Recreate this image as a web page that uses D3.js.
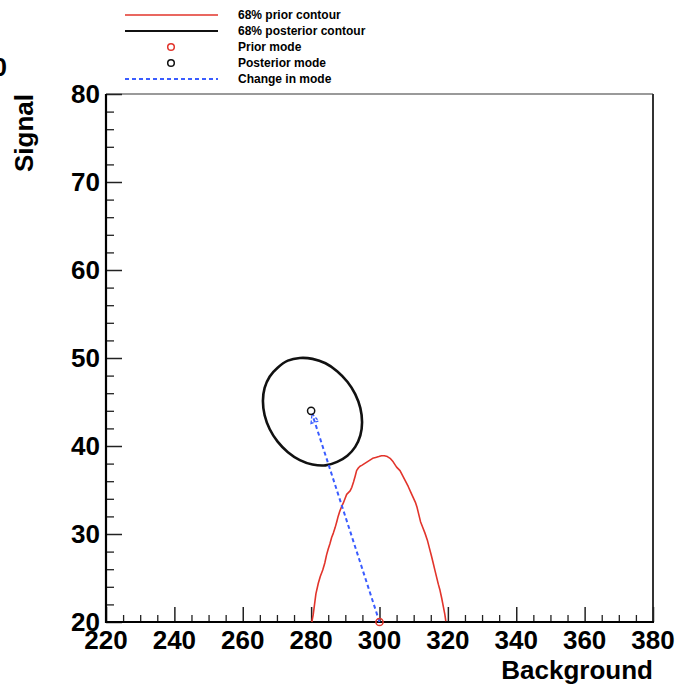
<!DOCTYPE html>
<html>
<head>
<meta charset="utf-8">
<script src="https://cdn.jsdelivr.net/npm/d3@7"></script>
<style>
  html, body { margin: 0; padding: 0; background: #fff; }
  svg { display: block; }
  text { font-family: "Liberation Sans", Arial, Helvetica, sans-serif; font-weight: bold; fill: #000; }
</style>
</head>
<body>
<div id="chart"></div>
<script>
// ---------------- data ----------------
const xDomain = [220, 380];
const yDomain = [20, 80];
const xTicks = [220, 240, 260, 280, 300, 320, 340, 360, 380];
const yTicks = [20, 30, 40, 50, 60, 70, 80];
const xTitle = "Background";
const yTitle = "Signal";

const priorMode = [300, 20];
const posteriorMode = [280, 44];

// 68% prior contour (red)
const priorContour = [
  [280.2,20.0],[280.6,20.8],[281.0,22.0],[281.4,23.2],[282.1,24.4],[282.7,25.2],[283.4,25.9],[284.0,26.7],
  [284.5,27.6],[285.0,28.3],[285.5,28.9],[286.0,29.6],[286.5,30.1],[287.0,30.7],[287.5,31.4],[287.9,32.0],
  [288.4,32.6],[288.9,33.1],[289.4,33.5],[289.9,34.0],[290.4,34.5],[290.9,34.7],[291.4,34.9],[291.9,35.3],
  [292.4,35.9],[292.9,36.6],[293.3,37.2],[293.8,37.5],[294.3,37.7],[294.8,37.8],[295.6,38.0],[296.4,38.2],
  [297.2,38.4],[298.0,38.6],[298.9,38.7],[299.8,38.8],[300.6,38.9],[301.4,38.9],[302.3,38.8],[303.1,38.6],
  [304.0,38.2],[305.0,37.6],[306.0,37.2],[306.8,36.6],[307.6,36.0],[308.4,35.4],[309.2,34.7],[309.9,34.1],
  [310.5,33.6],[311.0,33.0],[311.5,32.2],[312.0,31.4],[312.6,30.8],[313.3,30.1],[314.0,29.3],[314.6,28.4],
  [315.2,27.5],[315.7,26.7],[316.2,25.9],[316.7,25.1],[317.2,24.3],[317.7,23.6],[318.2,22.7],[318.7,21.7],
  [319.1,20.9],[319.4,20.1]
];

// 68% posterior contour (black)
const posteriorContour = [
  [294.9,42.7],[294.4,41.2],[292.9,39.9],[290.6,38.9],[287.6,38.2],[284.2,37.8],[280.4,37.9],[276.7,38.4],
  [273.2,39.3],[270.2,40.5],[267.9,41.9],[266.4,43.5],[265.9,45.1],[266.4,46.6],[267.9,47.9],[270.2,48.9],
  [273.2,49.7],[276.7,50.0],[280.4,49.9],[284.2,49.4],[287.6,48.5],[290.6,47.3],[292.9,45.9],[294.4,44.3]
];

const legendItems = [
  { label: "68% prior contour", kind: "line", color: "#e2342b" },
  { label: "68% posterior contour", kind: "line", color: "#111" },
  { label: "Prior mode", kind: "marker", color: "#e2342b" },
  { label: "Posterior mode", kind: "marker", color: "#111" },
  { label: "Change in mode", kind: "dash", color: "#3a5cff" }
];

// ---------------- layout ----------------
const W = 677, H = 687;
const plot = { left: 106, right: 653, top: 94, bottom: 622 };

const svg = d3.select("#chart").append("svg").attr("width", W).attr("height", H);

const x = d3.scaleLinear().domain(xDomain).range([plot.left, plot.right]);
const y = d3.scaleLinear().domain(yDomain).range([plot.bottom, plot.top]);

// frame top / right
svg.append("line").attr("x1", plot.left).attr("x2", plot.right).attr("y1", plot.top).attr("y2", plot.top)
  .attr("stroke", "#9a9a9a").attr("stroke-width", 2);
svg.append("line").attr("x1", plot.right).attr("x2", plot.right).attr("y1", plot.top).attr("y2", plot.bottom)
  .attr("stroke", "#333").attr("stroke-width", 2);

// minor ticks
const xMinor = d3.range(xDomain[0], xDomain[1] + 0.01, 5).filter(v => xTicks.indexOf(v) < 0);
const yMinor = d3.range(yDomain[0], yDomain[1] + 0.01, 2).filter(v => yTicks.indexOf(v) < 0);

svg.append("g").attr("transform", `translate(0,${plot.bottom})`)
  .call(d3.axisTop(x).tickValues(xMinor).tickSize(7).tickFormat(""))
  .call(g => g.select(".domain").remove())
  .call(g => g.selectAll("line").attr("stroke", "#222").attr("stroke-width", 1.3));
svg.append("g").attr("transform", `translate(${plot.left},0)`)
  .call(d3.axisRight(y).tickValues(yMinor).tickSize(8).tickFormat(""))
  .call(g => g.select(".domain").remove())
  .call(g => g.selectAll("line").attr("stroke", "#222").attr("stroke-width", 1.3));

// major ticks (inward)
svg.append("g").attr("transform", `translate(0,${plot.bottom})`)
  .call(d3.axisTop(x).tickValues(xTicks).tickSize(15).tickFormat(""))
  .call(g => g.select(".domain").remove())
  .call(g => g.selectAll("line").attr("stroke", "#222").attr("stroke-width", 1.5));
svg.append("g").attr("transform", `translate(${plot.left},0)`)
  .call(d3.axisRight(y).tickValues(yTicks).tickSize(16).tickFormat(""))
  .call(g => g.select(".domain").remove())
  .call(g => g.selectAll("line").attr("stroke", "#222").attr("stroke-width", 1.5));

// axis lines
svg.append("line").attr("x1", plot.left).attr("x2", plot.right + 1).attr("y1", plot.bottom).attr("y2", plot.bottom)
  .attr("stroke", "#000").attr("stroke-width", 2.2);
svg.append("line").attr("x1", plot.left).attr("x2", plot.left).attr("y1", plot.top).attr("y2", plot.bottom + 1)
  .attr("stroke", "#000").attr("stroke-width", 2.2);

// tick labels
svg.append("g").selectAll("text").data(xTicks).join("text")
  .attr("x", d => x(d)).attr("y", plot.bottom + 27)
  .attr("text-anchor", "middle").attr("font-size", 26).text(d => d);
svg.append("g").selectAll("text").data(yTicks).join("text")
  .attr("x", plot.left - 6).attr("y", d => y(d) + 9)
  .attr("text-anchor", "end").attr("font-size", 26).text(d => d);

// axis titles
svg.append("text").attr("x", plot.right).attr("y", 679).attr("text-anchor", "end")
  .attr("font-size", 26).text(xTitle);
svg.append("text").attr("transform", `translate(33,${plot.top}) rotate(-90)`).attr("text-anchor", "end")
  .attr("font-size", 26).text(yTitle);

// cut-off "0" at the top-left corner
svg.append("text").attr("x", 7).attr("y", 76).attr("text-anchor", "end").attr("font-size", 26).text("0");

// ---------------- marks ----------------
const line = d3.line().x(d => x(d[0])).y(d => y(d[1]));

svg.append("path").datum(priorContour).attr("d", line)
  .attr("fill", "none").attr("stroke", "#e2342b").attr("stroke-width", 1.6).attr("stroke-linejoin", "round");

svg.append("path").datum(posteriorContour).attr("d", d3.line().x(d => x(d[0])).y(d => y(d[1])).curve(d3.curveCardinalClosed))
  .attr("fill", "none").attr("stroke", "#111").attr("stroke-width", 2.6);

// change-in-mode arrow
const x0 = x(priorMode[0]), y0 = y(priorMode[1]);
const x1 = x(posteriorMode[0]), y1 = y(posteriorMode[1]);
const ang = Math.atan2(y1 - y0, x1 - x0);
const ex = x1 - 3 * Math.cos(ang), ey = y1 - 3 * Math.sin(ang);
svg.append("line").attr("x1", x0).attr("y1", y0).attr("x2", ex).attr("y2", ey)
  .attr("stroke", "#3a5cff").attr("stroke-width", 2).attr("stroke-dasharray", "4,3");
const ah = 9, aw = 4;
const bx = ex - ah * Math.cos(ang), by = ey - ah * Math.sin(ang);
svg.append("path")
  .attr("d", `M${bx + aw * Math.sin(ang)},${by - aw * Math.cos(ang)} L${ex},${ey} L${bx - aw * Math.sin(ang)},${by + aw * Math.cos(ang)} Z`)
  .attr("fill", "none").attr("stroke", "#3a5cff").attr("stroke-width", 1.3).attr("stroke-dasharray", "3,2");

// mode markers
svg.append("circle").attr("cx", x0).attr("cy", y0).attr("r", 3.6)
  .attr("fill", "none").attr("stroke", "#e2342b").attr("stroke-width", 1.5);
svg.append("circle").attr("cx", x1).attr("cy", y1).attr("r", 3.6)
  .attr("fill", "none").attr("stroke", "#111").attr("stroke-width", 1.5);

// ---------------- legend ----------------
const leg = svg.append("g");
const rowY = i => 15 + i * 16;
legendItems.forEach((it, i) => {
  const yy = rowY(i);
  if (it.kind === "line") {
    leg.append("line").attr("x1", 125).attr("x2", 218).attr("y1", yy).attr("y2", yy)
      .attr("stroke", it.color).attr("stroke-width", i === 1 ? 2 : 1.4);
  } else if (it.kind === "marker") {
    leg.append("circle").attr("cx", 171).attr("cy", yy).attr("r", 3.3)
      .attr("fill", "none").attr("stroke", it.color).attr("stroke-width", 1.5);
  } else {
    leg.append("line").attr("x1", 125).attr("x2", 218).attr("y1", yy).attr("y2", yy)
      .attr("stroke", it.color).attr("stroke-width", 2).attr("stroke-dasharray", "4,3");
  }
  leg.append("text").attr("x", 238).attr("y", yy + 4).attr("font-size", 12).text(it.label);
});
</script>
</body>
</html>
